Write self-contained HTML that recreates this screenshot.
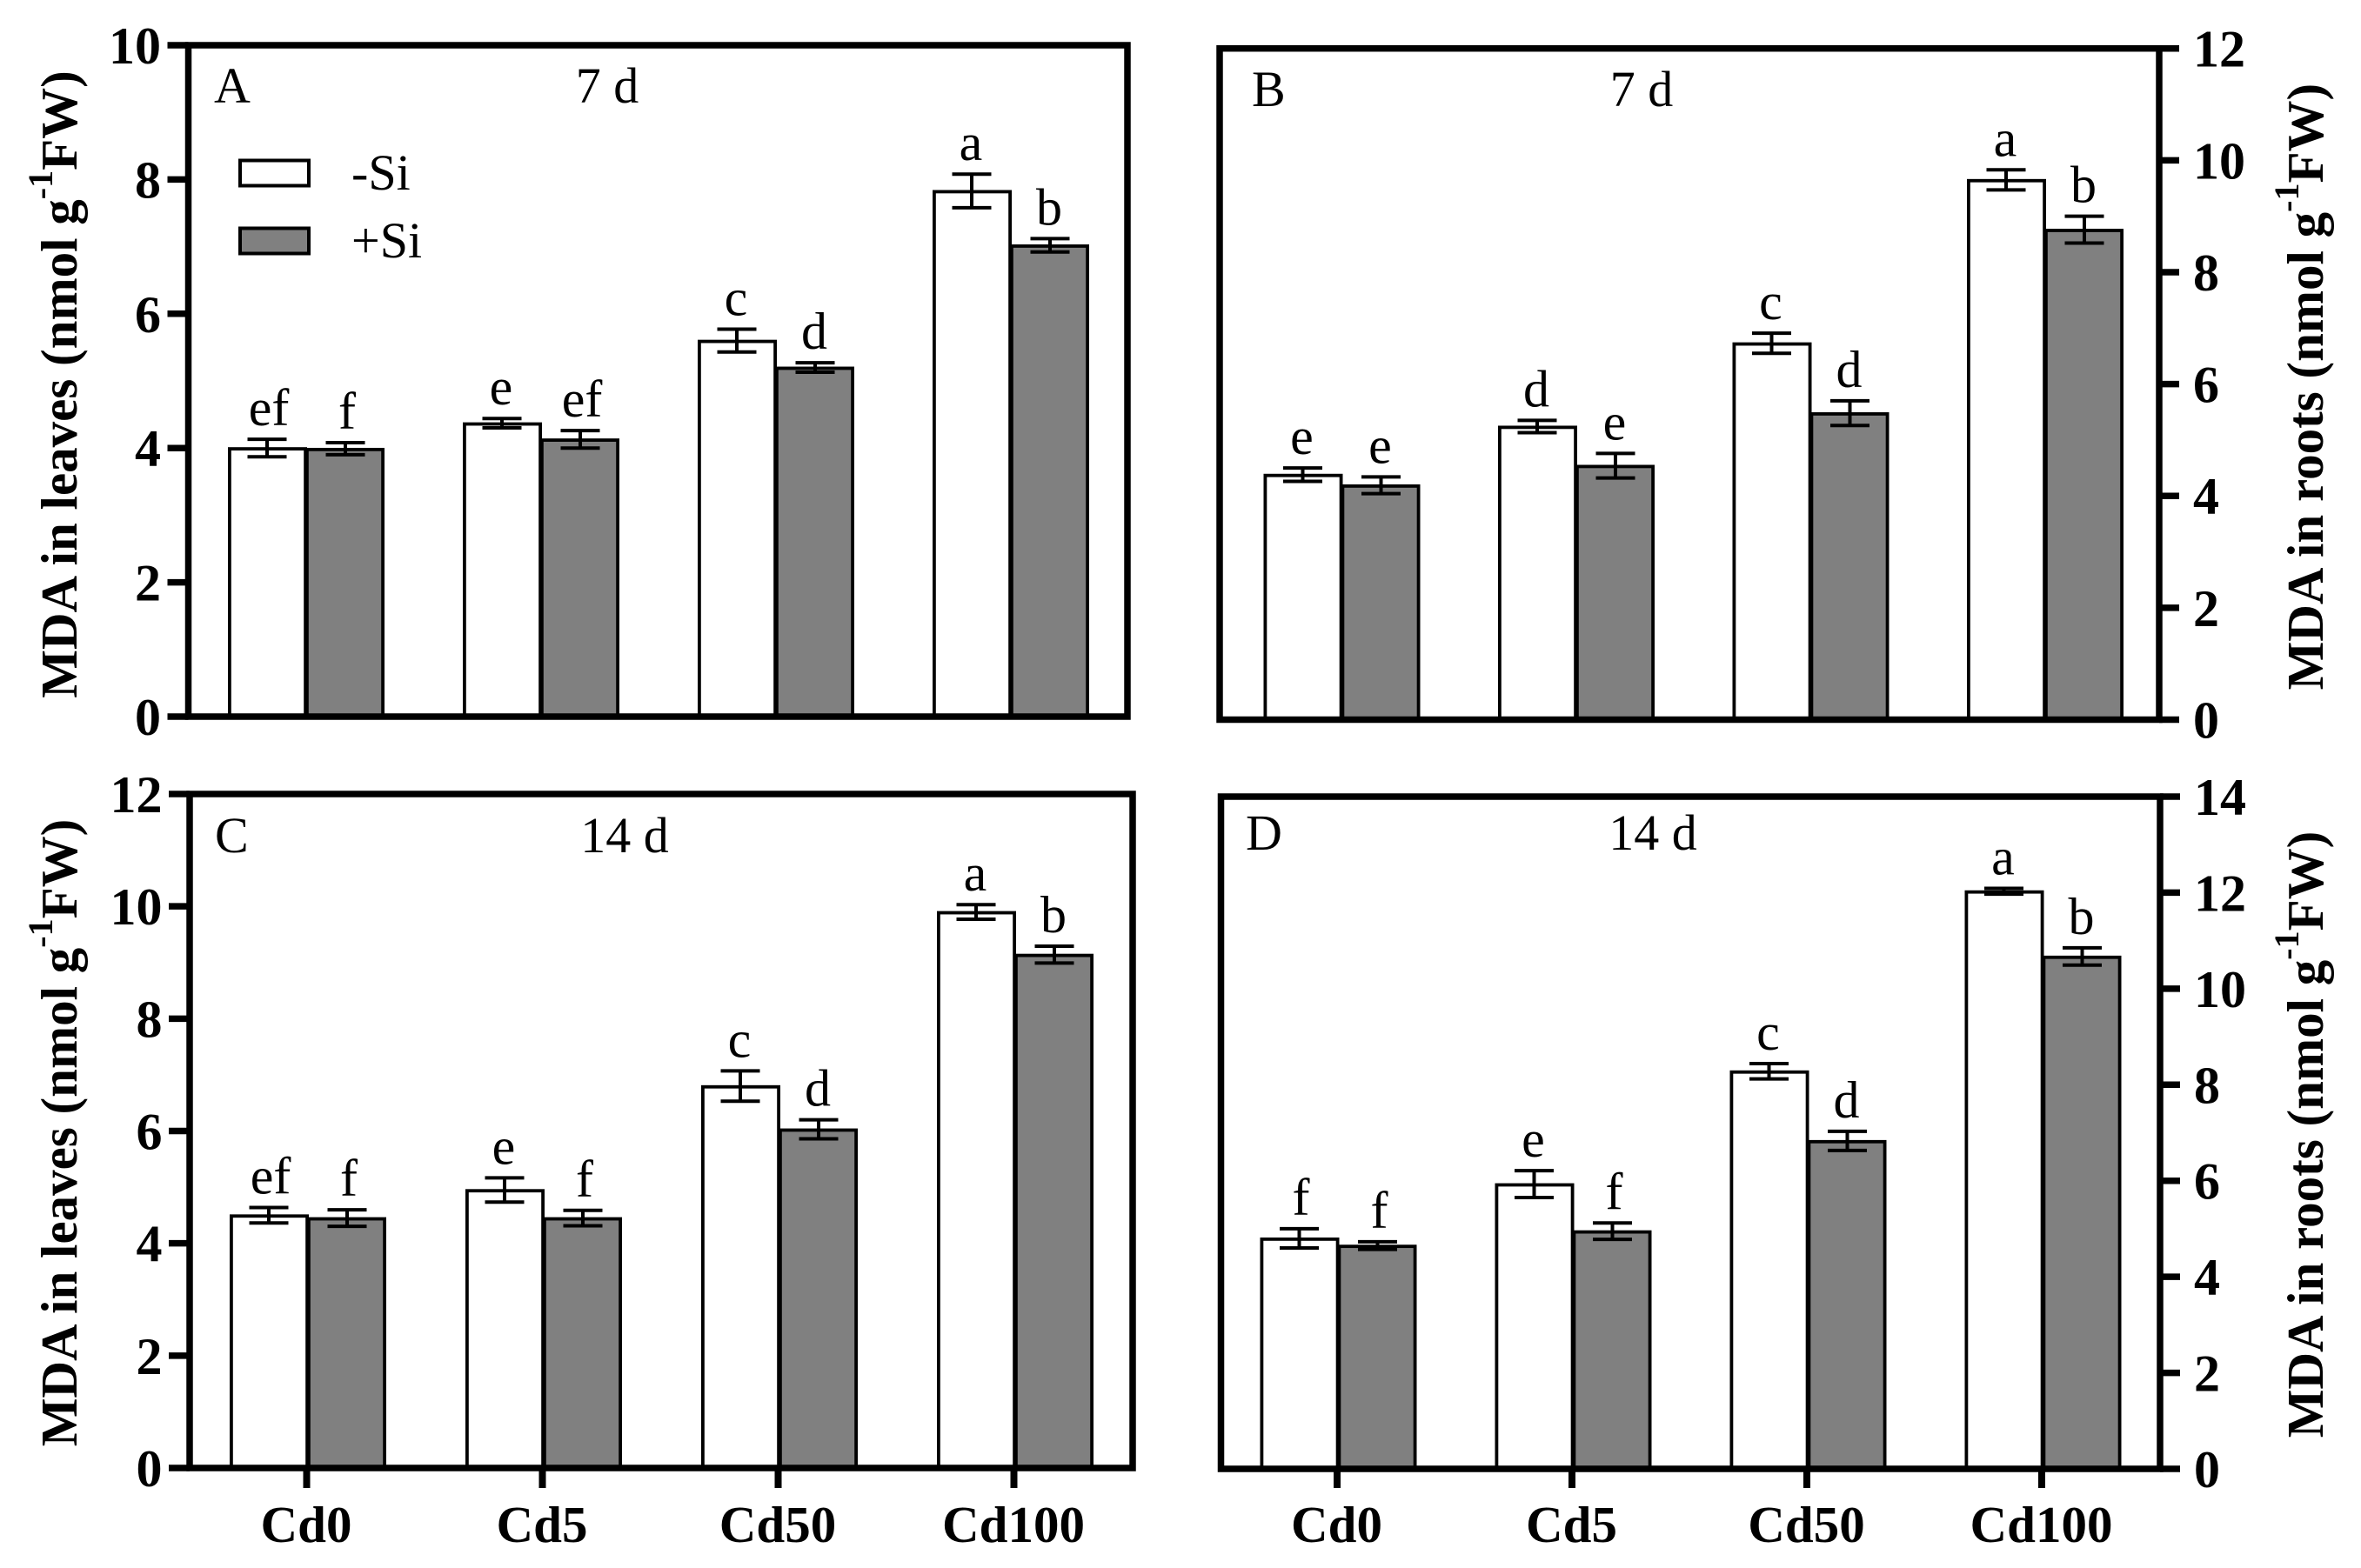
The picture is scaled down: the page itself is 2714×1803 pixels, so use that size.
<!DOCTYPE html>
<html lang="en">
<head>
<meta charset="utf-8">
<title>MDA in leaves and roots</title>
<style>
html,body{margin:0;padding:0;background:#fff;width:2714px;height:1803px;overflow:hidden}
svg{display:block}
text{font-family:"Liberation Serif",serif;fill:#000}
</style>
</head>
<body>
<svg id="chart" xmlns="http://www.w3.org/2000/svg" width="2714" height="1803" viewBox="0 0 2714 1803"></svg>
<script>
const categories = ['Cd0', 'Cd5', 'Cd50', 'Cd100'];

const panelAMinusSi = [4.0, 4.37, 5.6, 7.83];
const panelAPlusSi = [3.99, 4.13, 5.2, 7.02];
const panelAErrMinusSi = [0.13, 0.07, 0.17, 0.25];
const panelAErrPlusSi = [0.09, 0.13, 0.07, 0.1];
const panelALettersMinusSi = ['ef', 'e', 'c', 'a'];
const panelALettersPlusSi = ['f', 'ef', 'd', 'b'];
const panelATicks = [0, 2, 4, 6, 8, 10];

const panelBMinusSi = [4.38, 5.24, 6.73, 9.65];
const panelBPlusSi = [4.19, 4.54, 5.48, 8.76];
const panelBErrMinusSi = [0.12, 0.11, 0.18, 0.18];
const panelBErrPlusSi = [0.15, 0.22, 0.22, 0.24];
const panelBLettersMinusSi = ['e', 'd', 'c', 'a'];
const panelBLettersPlusSi = ['e', 'e', 'd', 'b'];
const panelBTicks = [0, 2, 4, 6, 8, 10, 12];

const panelCMinusSi = [4.5, 4.95, 6.8, 9.9];
const panelCPlusSi = [4.45, 4.45, 6.03, 9.14];
const panelCErrMinusSi = [0.137, 0.215, 0.27, 0.13];
const panelCErrPlusSi = [0.147, 0.137, 0.17, 0.15];
const panelCLettersMinusSi = ['ef', 'e', 'c', 'a'];
const panelCLettersPlusSi = ['f', 'f', 'd', 'b'];
const panelCTicks = [0, 2, 4, 6, 8, 10, 12];

const panelDMinusSi = [4.8, 5.93, 8.28, 12.03];
const panelDPlusSi = [4.65, 4.95, 6.83, 10.67];
const panelDErrMinusSi = [0.2, 0.28, 0.16, 0.06];
const panelDErrPlusSi = [0.08, 0.17, 0.2, 0.18];
const panelDLettersMinusSi = ['f', 'e', 'c', 'a'];
const panelDLettersPlusSi = ['f', 'f', 'd', 'b'];
const panelDTicks = [0, 2, 4, 6, 8, 10, 12, 14];

const panels = [
  {id:'a', letter:'A', day:'7 d', organ:'leaves', side:'left', left:216.5, right:1296, top:52, bottom:824, first:352, pitch:270, minus:panelAMinusSi, plus:panelAPlusSi, errM:panelAErrMinusSi, errP:panelAErrPlusSi, lettersM:panelALettersMinusSi, lettersP:panelALettersPlusSi, ticks:panelATicks, xAxis:false, letterX:246, letterY:118, dayX:698, dayY:118, titleX:88, titleShift:4},
  {id:'b', letter:'B', day:'7 d', organ:'roots', side:'right', left:1402, right:2482, top:55.7, bottom:827.5, first:1542.5, pitch:269.5, minus:panelBMinusSi, plus:panelBPlusSi, errM:panelBErrMinusSi, errP:panelBErrPlusSi, lettersM:panelBLettersMinusSi, lettersP:panelBLettersPlusSi, ticks:panelBTicks, xAxis:false, letterX:1439, letterY:122, dayX:1887, dayY:122, titleX:2670, titleShift:3},
  {id:'c', letter:'C', day:'14 d', organ:'leaves', side:'left', left:218, right:1302, top:913, bottom:1688, first:354, pitch:271, minus:panelCMinusSi, plus:panelCPlusSi, errM:panelCErrMinusSi, errP:panelCErrPlusSi, lettersM:panelCLettersMinusSi, lettersP:panelCLettersPlusSi, ticks:panelCTicks, xAxis:true, letterX:247, letterY:980, dayX:718, dayY:980, titleX:88, titleShift:2},
  {id:'d', letter:'D', day:'14 d', organ:'roots', side:'right', left:1403.5, right:2483, top:916, bottom:1689, first:1538.5, pitch:270, minus:panelDMinusSi, plus:panelDPlusSi, errM:panelDErrMinusSi, errP:panelDErrPlusSi, lettersM:panelDLettersMinusSi, lettersP:panelDLettersPlusSi, ticks:panelDTicks, xAxis:true, letterX:1432, letterY:977, dayX:1900, dayY:977, titleX:2670, titleShift:2}
];

const NS = 'http://www.w3.org/2000/svg';
const chart = document.getElementById('chart');
const BAR_HALF = 90;
const BAR_OVERLAP = 1;
const BAR_STROKE = 3.8;
const CAP = 22.5;

function make(tag, attrs, parent, txt) {
  const el = document.createElementNS(NS, tag);
  for (const k in attrs) el.setAttribute(k, attrs[k]);
  if (txt !== undefined) el.textContent = txt;
  parent.appendChild(el);
  return el;
}
function line(x1, y1, x2, y2, w, parent) {
  return make('line', {x1, y1, x2, y2, stroke:'#000', 'stroke-width':w}, parent);
}

panels.forEach(function (p) {
  const tickMax = p.ticks[p.ticks.length - 1];
  const yScale = function (v) { return p.bottom - (v / tickMax) * (p.bottom - p.top); };
  const xScale = function (i) { return p.first + i * p.pitch; };

  const g = make('g', {}, chart);
  
  

  categories.forEach(function (cat, i) {
    const cx = xScale(i);
    [[p.minus, p.errM, p.lettersM, '#fff', -1, 'minus-si'], [p.plus, p.errP, p.lettersP, '#808080', 1, 'plus-si']].forEach(function (s) {
      const val = s[0][i], err = s[1][i], lab = s[2][i], fill = s[3], dir = s[4], key = s[5];
      const yTop = yScale(val);
      const outerW = BAR_HALF + BAR_OVERLAP;
      const bx = dir < 0 ? cx - BAR_HALF : cx - BAR_OVERLAP;
      const strokeY = yTop + BAR_STROKE / 2 - 1;
      const bar = make('rect', {x: bx + BAR_STROKE / 2, y: strokeY, width: outerW - BAR_STROKE, height: p.bottom - strokeY, fill: fill, stroke:'#000', 'stroke-width': BAR_STROKE}, g);
      
      

      const mid = cx + dir * BAR_HALF / 2;
      const eTop = yScale(val + err), eBot = yScale(val - err);
      const eg = make('g', {}, g);
      
      
      line(mid, eTop, mid, eBot, 4, eg);
      line(mid - CAP, eTop, mid + CAP, eTop, 4, eg);
      line(mid - CAP, eBot, mid + CAP, eBot, 4, eg);

      const nudge = lab.indexOf('f') >= 0 ? 2 : -1;
      const t = make('text', {x: mid + nudge, y: eTop - 16, 'font-size': 60, 'text-anchor': 'middle'}, g, lab);
      
      
    });

    if (p.xAxis) {
      const tx = line(cx - 1.5, p.bottom, cx - 1.5, 1711, 8, g);
      
      
      const xl = make('text', {x: cx - 2, y: 1773, 'font-size': 59, 'font-weight': 'bold', 'text-anchor': 'middle'}, g, cat);
      
      
    }
  });

  const frame = make('rect', {x: p.left, y: p.top, width: p.right - p.left, height: p.bottom - p.top, fill:'none', stroke:'#000', 'stroke-width': 7.5}, g);
  
  

  p.ticks.forEach(function (v) {
    const y = yScale(v);
    const isLeft = p.side === 'left';
    const axisX = isLeft ? p.left : p.right;
    const outX = isLeft ? axisX - 24 : axisX + 23;
    const tk = line(axisX, y, outX, y, 7.5, g);
    
    
    const lab = make('text', {x: isLeft ? axisX - 31.5 : axisX + 39, y: y + 21, 'font-size': 60, 'font-weight': 'bold', 'text-anchor': isLeft ? 'end' : 'start'}, g, String(v));
    
    
  });

  const cy = (p.top + p.bottom) / 2 + p.titleShift;
  const title = make('text', {transform: 'translate(' + p.titleX + ',' + cy + ') rotate(-90)', 'font-size': 59, 'font-weight': 'bold', 'text-anchor': 'middle'}, g);
  
  
  make('tspan', {}, title, 'MDA in ' + p.organ + ' (nmol g');
  make('tspan', {dy: -28, 'font-size': 40}, title, '-1');
  make('tspan', {dy: 28}, title, 'FW)');

  const pl = make('text', {x: p.letterX, y: p.letterY, 'font-size': 58}, g, p.letter);
  
  
  const dl = make('text', {x: p.dayX, y: p.dayY, 'font-size': 58, 'text-anchor': 'middle'}, g, p.day);
  
  
});

const legend = make('g', {}, chart);


const swatchMinus = make('rect', {x: 276, y: 184.5, width: 79, height: 29, fill:'#fff', stroke:'#000', 'stroke-width': 4}, legend);


const labelMinus = make('text', {x: 404, y: 218, 'font-size': 58}, legend, '-Si');


const swatchPlus = make('rect', {x: 276, y: 262.5, width: 79, height: 29, fill:'#808080', stroke:'#000', 'stroke-width': 4}, legend);


const labelPlus = make('text', {x: 404, y: 296, 'font-size': 58}, legend, '+Si');


</script>
</body>
</html>
